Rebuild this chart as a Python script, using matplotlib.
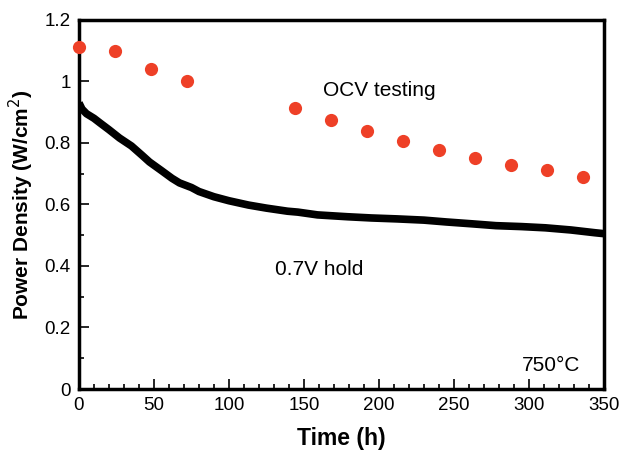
import matplotlib
matplotlib.use("Agg")
import matplotlib.pyplot as plt
from matplotlib.ticker import MultipleLocator

plt.rcParams["font.family"] = ["Liberation Sans", "DejaVu Sans"]

# OCV testing points
ocv_time = [0, 24, 48, 72, 144, 168, 192, 216, 240, 264, 288, 312, 336]
ocv_power = [1.112, 1.099, 1.040, 1.002, 0.914, 0.875, 0.839, 0.807,
             0.777, 0.751, 0.728, 0.712, 0.689]

# 0.7V hold curve
hold_time = [0, 2, 5, 10, 14, 20, 27, 35, 42, 47, 55, 62, 67, 75, 80, 90,
             100, 113, 125, 139, 146, 159, 179, 195, 212, 230, 245, 262,
             278, 295, 311, 328, 344, 350]
hold_power = [0.930, 0.910, 0.895, 0.880, 0.865, 0.843, 0.816, 0.790,
              0.760, 0.738, 0.710, 0.685, 0.670, 0.655, 0.642, 0.625,
              0.612, 0.598, 0.588, 0.578, 0.575, 0.566, 0.560, 0.556,
              0.553, 0.549, 0.543, 0.537, 0.531, 0.528, 0.524, 0.517,
              0.508, 0.505]

y_ticks = [0, 0.2, 0.4, 0.6, 0.8, 1.0, 1.2]
y_tick_labels = ["0", "0.2", "0.4", "0.6", "0.8", "1", "1.2"]
x_ticks = [0, 50, 100, 150, 200, 250, 300, 350]

fig = plt.figure(figsize=(6.19, 4.62), dpi=100)
ax = fig.add_axes([0.1276, 0.158, 0.848, 0.799])

ax.plot(hold_time, hold_power, color="black", linewidth=5.5,
        solid_capstyle="butt", solid_joinstyle="round")
ax.plot(ocv_time, ocv_power, "o", color="#ee4027", markersize=9.5,
        markeredgewidth=0, clip_on=False, zorder=3)

ax.set_xlim(0, 350)
ax.set_ylim(0, 1.2)
ax.set_xticks(x_ticks)
ax.set_yticks(y_ticks)
ax.set_yticklabels(y_tick_labels)
ax.xaxis.set_minor_locator(MultipleLocator(10))
ax.yaxis.set_minor_locator(MultipleLocator(0.1))
ax.tick_params(which="both", direction="in", top=False, right=False,
               labelsize=13.5, width=1.2)
ax.tick_params(which="major", length=7, pad=6)
ax.tick_params(which="minor", length=3.5)
for sp in ax.spines.values():
    sp.set_linewidth(2.5)

ax.set_xlabel("Time (h)", fontsize=16.5, fontweight="bold", labelpad=9)
ax.set_ylabel("Power Density (W/cm$^2$)", fontsize=15, fontweight="bold",
              labelpad=6)

ax.text(163, 0.972, "OCV testing", fontsize=15, va="center")
ax.text(131, 0.39, "0.7V hold", fontsize=15, va="center")
ax.text(295, 0.078, "750°C", fontsize=15, va="center")

fig.savefig("out.png", dpi=100)
